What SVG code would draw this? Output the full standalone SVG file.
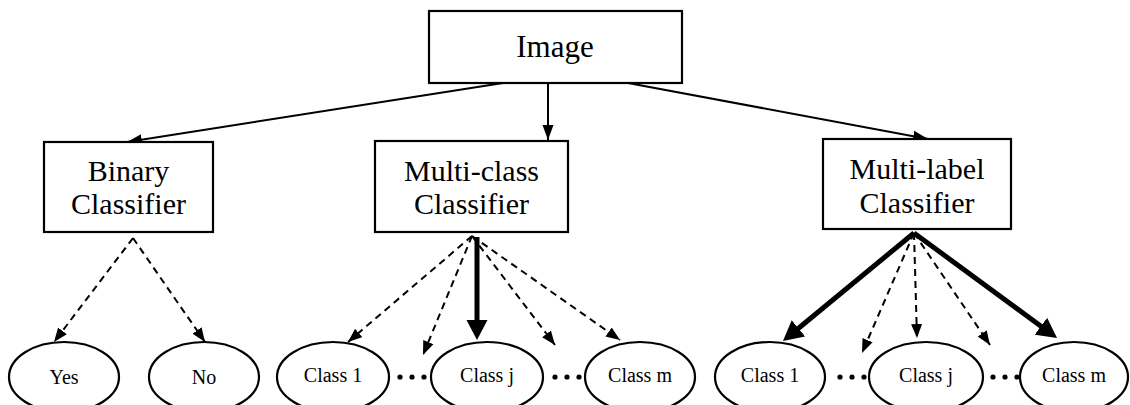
<svg xmlns="http://www.w3.org/2000/svg" width="1130" height="405" viewBox="0 0 1130 405">
<style>
.box{fill:#fff;stroke:#000;stroke-width:2.2}
.ell{fill:#fff;stroke:#000;stroke-width:2.2}
.t{font-family:"Liberation Serif","Times New Roman",serif;fill:#000;text-anchor:middle}
.big{font-size:30px}
.img{font-size:31px}
.sm{font-size:20px}
.solid{stroke:#000;stroke-width:2;fill:none;marker-end:url(#a1)}
.dash{stroke:#000;stroke-width:2;fill:none;stroke-dasharray:7 5;marker-end:url(#a2)}
.thick{stroke:#000;stroke-width:5;fill:none;marker-end:url(#a3)}
</style>
<defs>
<marker id="a1" markerUnits="userSpaceOnUse" viewBox="0 -6 15 12" markerWidth="15" markerHeight="12" refX="15" refY="0" orient="auto"><path d="M0,-5.5L15,0L0,5.5z" fill="#000"/></marker>
<marker id="a2" markerUnits="userSpaceOnUse" viewBox="0 -6 14 12" markerWidth="14" markerHeight="12" refX="14" refY="0" orient="auto"><path d="M0,-5.5L14,0L0,5.5z" fill="#000"/></marker>
<marker id="a3" markerUnits="userSpaceOnUse" viewBox="0 -11 20 22" markerWidth="20" markerHeight="22" refX="14" refY="0" orient="auto"><path d="M0,-10.5L20,0L0,10.5z" fill="#000"/></marker>
</defs>
<rect width="1130" height="405" fill="#fff"/>
<g id="connectors">
<line class="solid" x1="503" y1="83" x2="127" y2="142"/>
<line class="solid" x1="548" y1="83" x2="548" y2="140"/>
<line class="solid" x1="628" y1="83" x2="928" y2="139"/>
<line class="dash" x1="133" y1="238" x2="54" y2="342"/>
<line class="dash" x1="133" y1="238" x2="205" y2="342"/>
<line class="dash" x1="472" y1="236" x2="348" y2="342"/>
<line class="dash" x1="472" y1="236" x2="423" y2="355"/>
<line class="thick" x1="477" y1="237" x2="477" y2="334"/>
<line class="dash" x1="472" y1="236" x2="555" y2="345"/>
<line class="dash" x1="472" y1="236" x2="620" y2="340"/>
<line class="thick" x1="914" y1="233" x2="787.6" y2="337.2"/>
<line class="dash" x1="914" y1="233" x2="862" y2="353"/>
<line class="dash" x1="914" y1="233" x2="917" y2="338"/>
<line class="dash" x1="914" y1="233" x2="990" y2="345"/>
<line class="thick" x1="914" y1="233" x2="1052.2" y2="334.5"/>
</g>
<g id="image"><rect class="box" x="429" y="11" width="253" height="72"/><text class="t img" x="555" y="57">Image</text></g>
<g id="binary"><rect class="box" x="44" y="142" width="169" height="90"/><text class="t big" x="128.5" y="181">Binary</text><text class="t big" x="128.5" y="214">Classifier</text></g>
<g id="multiclass"><rect class="box" x="375" y="141" width="193" height="91"/><text class="t big" x="471.5" y="181">Multi-class</text><text class="t big" x="471.5" y="214">Classifier</text></g>
<g id="multilabel"><rect class="box" x="823" y="139" width="188" height="90"/><text class="t big" x="917" y="179">Multi-label</text><text class="t big" x="917" y="213">Classifier</text></g>
<g id="yes"><ellipse class="ell" cx="64" cy="377" rx="55" ry="35"/><text class="t sm" x="64" y="384">Yes</text></g>
<g id="no"><ellipse class="ell" cx="204" cy="377" rx="55" ry="35"/><text class="t sm" x="204" y="384">No</text></g>
<g id="mc-class1"><ellipse class="ell" cx="333" cy="377" rx="56" ry="35"/><text class="t sm" x="333" y="382">Class 1</text></g>
<g id="mc-classj"><ellipse class="ell" cx="487" cy="377" rx="56" ry="35"/><text class="t sm" x="487" y="382">Class j</text></g>
<g id="mc-classm"><ellipse class="ell" cx="640" cy="377" rx="55" ry="35"/><text class="t sm" x="640" y="382">Class m</text></g>
<g id="ml-class1"><ellipse class="ell" cx="770" cy="377" rx="55" ry="35"/><text class="t sm" x="770" y="382">Class 1</text></g>
<g id="ml-classj"><ellipse class="ell" cx="926" cy="377" rx="57" ry="35"/><text class="t sm" x="926" y="382">Class j</text></g>
<g id="ml-classm"><ellipse class="ell" cx="1074" cy="377" rx="54" ry="35"/><text class="t sm" x="1074" y="382">Class m</text></g>
<g id="dots" fill="#000">
<circle cx="400" cy="377" r="2.6"/><circle cx="412" cy="377" r="2.6"/><circle cx="424" cy="377" r="2.6"/>
<circle cx="555" cy="377" r="2.6"/><circle cx="567" cy="377" r="2.6"/><circle cx="579" cy="377" r="2.6"/>
<circle cx="840" cy="377" r="2.6"/><circle cx="852" cy="377" r="2.6"/><circle cx="864" cy="377" r="2.6"/>
<circle cx="993" cy="377" r="2.6"/><circle cx="1005" cy="377" r="2.6"/><circle cx="1017" cy="377" r="2.6"/>
</g>
</svg>
